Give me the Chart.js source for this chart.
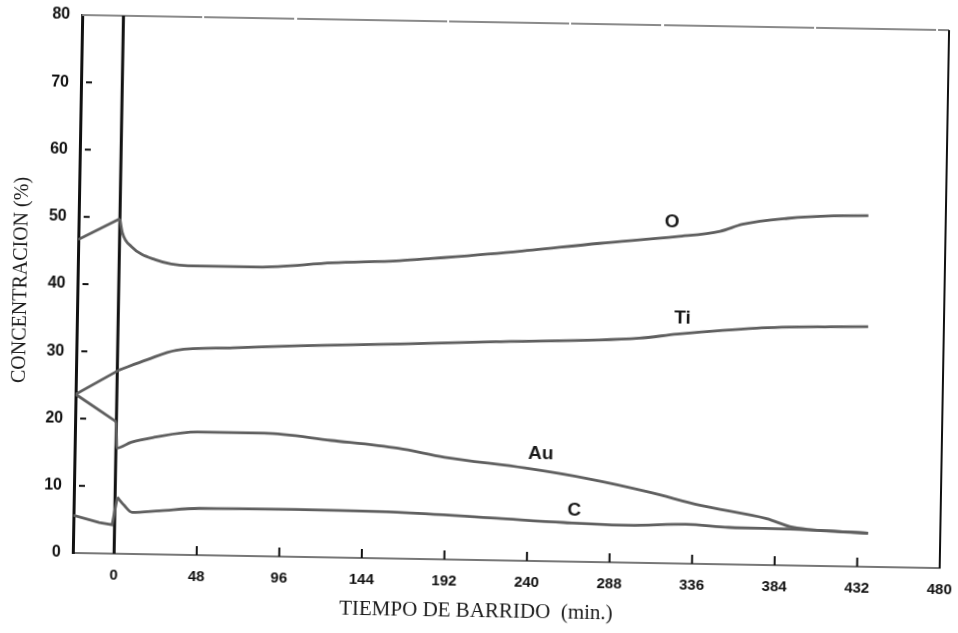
<!DOCTYPE html>
<html>
<head>
<meta charset="utf-8">
<script src="https://cdn.jsdelivr.net/npm/chart.js@4.4.0/dist/chart.umd.min.js"></script>
<style>
  html, body { margin: 0; padding: 0; background: #fff; overflow: hidden; }
  #wrap { width: 958px; height: 633px; }
  /* the scanned figure is skewed by about one degree */
  #chart { transform: rotate(1deg); transform-origin: 50% 50%; }
</style>
</head>
<body>
<div id="wrap"><canvas id="chart" width="958" height="633"></canvas></div>
<script>
// sputtering time (min) and concentration (%)
const xTicks = [0, 48, 96, 144, 192, 240, 288, 336, 384, 432, 480];
const yTicks = [0, 10, 20, 30, 40, 50, 60, 70, 80];

const timeO = [-24, 0, 1.5, 7, 21, 40, 81, 124, 163, 181, 229, 279, 324, 349, 362, 388, 415, 435];
const concO = [46.6, 49.8, 47.8, 45.7, 43.8, 43.0, 43.0, 43.8, 44.3, 44.7, 45.9, 47.4, 48.6, 49.5, 50.6, 51.6, 52.1, 52.2];

const timeTi = [-24, 1, 17, 34, 67, 106, 164, 220, 303, 325, 371, 414, 436];
const concTi = [23.6, 27.3, 28.9, 30.4, 30.9, 31.4, 31.9, 32.5, 33.4, 34.1, 35.2, 35.6, 35.7];

const timeAu = [-24, 0, 0.5, 8.7, 22, 47, 86, 125, 164, 191, 238, 274, 311, 340, 379, 394, 438];
const concAu = [23.6, 19.6, 15.7, 16.6, 17.4, 18.3, 18.3, 17.4, 16.4, 15.2, 13.8, 12.4, 10.5, 8.7, 6.9, 5.7, 5.0];

const timeC = [-24, -9, -1.4, 1.3, 5.4, 10, 26, 49, 105, 164, 222, 261, 299, 332, 357, 393, 438];
const concC = [5.6, 4.6, 4.3, 8.4, 7.2, 6.2, 6.5, 6.95, 7.05, 6.9, 6.25, 5.8, 5.55, 5.85, 5.5, 5.4, 5.0];

const curveNames = ['O', 'Ti', 'Au', 'C'];
// where each curve name is written, in data units
const nameSpots = [[321, 50.8], [328, 36.5], [247, 16.0], [267, 7.6]];

const xMin = -24, xMax = 480, yMin = 0, yMax = 80;

const pairs = (xs, ys) => xs.map((v, i) => ({ x: v, y: ys[i] }));
const lineStyle = {
  showLine: true,
  borderColor: '#5f5f5f',
  borderWidth: 2.8,
  pointRadius: 0
};

// the stretch before t = 0 is drawn straight, the rest smooth
function series(name, xs, ys) {
  const pts = pairs(xs, ys);
  const k = xs.findIndex(v => v >= 0);
  return [
    { label: name, data: pts.slice(0, k + 1), ...lineStyle, tension: 0 },
    { label: name, data: pts.slice(k), ...lineStyle, cubicInterpolationMode: 'monotone' }
  ];
}

const frame = {
  id: 'frame',
  beforeDatasetsDraw(chart) {
    const { ctx, chartArea: a, scales: { x, y } } = chart;
    ctx.save();
    // top edge, grey and slightly broken
    ctx.strokeStyle = '#8a8a8a';
    ctx.lineWidth = 2;
    ctx.setLineDash([120, 2, 90, 3, 150, 2]);
    ctx.beginPath();
    ctx.moveTo(a.left, a.top);
    ctx.lineTo(a.right, a.top);
    ctx.stroke();
    ctx.setLineDash([]);
    // right edge
    ctx.strokeStyle = '#111';
    ctx.lineWidth = 2;
    ctx.beginPath();
    ctx.moveTo(a.right, a.top);
    ctx.lineTo(a.right, a.bottom);
    ctx.stroke();
    // line at t = 0
    const x0 = x.getPixelForValue(0);
    ctx.lineWidth = 3;
    ctx.beginPath();
    ctx.moveTo(x0, a.top);
    ctx.lineTo(x0, a.bottom);
    ctx.stroke();
    // tick marks
    ctx.lineWidth = 2;
    xTicks.forEach(v => {
      if (v <= 0 || v >= xMax) return;
      const px = x.getPixelForValue(v);
      ctx.beginPath();
      ctx.moveTo(px, a.bottom);
      ctx.lineTo(px, a.bottom - 9);
      ctx.stroke();
    });
    yTicks.forEach(v => {
      if (v <= 0 || v >= yMax) return;
      const py = y.getPixelForValue(v);
      ctx.beginPath();
      ctx.moveTo(a.left + 5, py);
      ctx.lineTo(a.left + 11, py);
      ctx.stroke();
    });
    ctx.restore();
  },
  afterDraw(chart) {
    const { ctx, chartArea: a, scales: { x, y } } = chart;
    ctx.save();
    ctx.fillStyle = '#1a1a1a';
    ctx.textAlign = 'center';
    ctx.textBaseline = 'middle';
    ctx.font = 'bold 19px "Liberation Sans", Arial, sans-serif';
    curveNames.forEach((n, i) => {
      ctx.fillText(n, x.getPixelForValue(nameSpots[i][0]), y.getPixelForValue(nameSpots[i][1]));
    });
    // axis titles
    ctx.font = '21px "Liberation Serif", "Times New Roman", serif';
    ctx.fillText('TIEMPO DE BARRIDO  (min.)', chart.width / 2 + 2, chart.height - 22);
    ctx.translate(21, (a.top + a.bottom) / 2 - 3);
    ctx.rotate(-Math.PI / 2);
    ctx.font = '20px "Liberation Serif", "Times New Roman", serif';
    ctx.fillText('CONCENTRACION (%)', 0, 0);
    ctx.restore();
  }
};

new Chart(document.getElementById('chart'), {
  type: 'scatter',
  data: {
    datasets: [
      ...series('O', timeO, concO),
      ...series('Ti', timeTi, concTi),
      ...series('Au', timeAu, concAu),
      ...series('C', timeC, concC)
    ]
  },
  options: {
    responsive: false,
    animation: false,
    layout: { padding: { left: 0, right: 14, top: 22, bottom: 0 } },
    plugins: {
      legend: { display: false },
      tooltip: { enabled: false }
    },
    scales: {
      x: {
        type: 'linear',
        min: xMin,
        max: xMax,
        afterBuildTicks: axis => { axis.ticks = xTicks.map(v => ({ value: v })); },
        afterFit: axis => {
          axis.height = 73;
          axis.paddingLeft = 0;
          axis.paddingRight = 0;
        },
        grid: { display: false, drawTicks: false },
        border: { display: true, color: '#777', width: 2, dash: [44, 4, 6, 3] },
        ticks: {
          padding: 13,
          color: '#111',
          maxRotation: 0,
          autoSkip: false,
          font: { family: '"Liberation Sans Narrow", "Liberation Sans", sans-serif', weight: 'bold', size: 15 }
        }
      },
      y: {
        min: yMin,
        max: yMax,
        afterBuildTicks: axis => { axis.ticks = yTicks.map(v => ({ value: v })); },
        afterFit: axis => { axis.width = 77; },
        grid: { display: false, drawTicks: false },
        border: { display: true, color: '#111', width: 3 },
        ticks: {
          padding: 12,
          color: '#111',
          font: { family: '"Liberation Sans", Arial, sans-serif', weight: 'bold', size: 16 }
        }
      }
    }
  },
  plugins: [frame]
});
</script>
</body>
</html>
